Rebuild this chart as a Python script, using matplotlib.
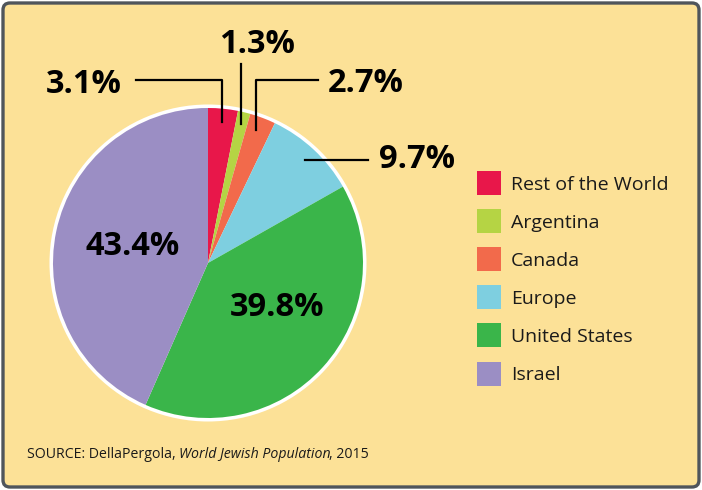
import matplotlib
matplotlib.use("Agg")
import matplotlib.pyplot as plt
from matplotlib.patches import FancyBboxPatch, Circle, Rectangle

categories = ["Rest of the World", "Argentina", "Canada", "Europe", "United States", "Israel"]
values = [3.1, 1.3, 2.7, 9.7, 39.8, 43.4]
labels = ["3.1%", "1.3%", "2.7%", "9.7%", "39.8%", "43.4%"]
colors = ["#E8174A", "#B5D444", "#F26A4B", "#7ECFE0", "#3AB54A", "#9B8EC4"]
source_parts = [("SOURCE: DellaPergola, ", "normal"), ("World Jewish Population", "italic"), (", 2015", "normal")]

plt.rcParams['font.family'] = ['Open Sans', 'DejaVu Sans']
W, H = 702, 490
fig = plt.figure(figsize=(W / 100, H / 100), dpi=100)
fig.patch.set_facecolor("white")
ax = fig.add_axes([0, 0, 1, 1])
ax.set_xlim(0, W)
ax.set_ylim(0, H)
ax.axis("off")

def Y(y):
    return H - y

bg = FancyBboxPatch((3, 3), W - 6, H - 6, boxstyle="round,pad=0,rounding_size=7",
                    facecolor="#FCE197", edgecolor="#4F555C", linewidth=2.4, zorder=0)
ax.add_patch(bg)

cx, cy, r = 208, Y(263), 155
ax.add_patch(Circle((cx, cy), r + 3.5, facecolor="white", edgecolor="none", zorder=1))
wedges, _ = ax.pie(values, colors=colors, startangle=90, counterclock=False,
                   center=(cx, cy), radius=r, frame=True,
                   wedgeprops=dict(linewidth=0, zorder=2))
for w in wedges:
    w.set_zorder(2)
ax.set_xlim(0, W)
ax.set_ylim(0, H)
ax.set_aspect("equal")
ax.axis("off")

lw = 1.6
# leader lines
ax.plot([136, 222, 222], [Y(80), Y(80), Y(122)], color="black", lw=lw, zorder=3)
ax.plot([241, 241], [Y(64), Y(124)], color="black", lw=lw, zorder=3)
ax.plot([318, 256, 256], [Y(80), Y(80), Y(130)], color="black", lw=lw, zorder=3)
ax.plot([305, 368], [Y(160), Y(160)], color="black", lw=lw, zorder=3)

big = dict(fontsize=23.5, fontweight="bold", color="black", zorder=4)
label_pos = [(84, 85), (257, 45), (366, 84), (417, 160), (277, 308), (133, 247)]
for lab, (x, y) in zip(labels, label_pos):
    ax.text(x, Y(y), lab, ha="center", va="center", **big)

# legend
leg_y = [183, 221, 259, 297, 335, 374]
for cat, col, y in zip(categories, colors, leg_y):
    ax.add_patch(Rectangle((477, Y(y) - 12), 24, 24, facecolor=col, edgecolor="none", zorder=3))
    ax.text(511, Y(y + 1.5), cat, ha="left", va="center", fontsize=14, color="#1a1a1a", zorder=4)

# source
fig.canvas.draw()
renderer = fig.canvas.get_renderer()
x = 27
for txt, style in source_parts:
    t = ax.text(x, Y(454.5), txt, ha="left", va="center", fontsize=10.2, style=style,
                color="#1a1a1a", zorder=4)
    bb = t.get_window_extent(renderer=renderer)
    x = ax.transData.inverted().transform((bb.x1, 0))[0] - (2 if style == "italic" else 0)

fig.savefig("out.png", dpi=100, facecolor="white")
